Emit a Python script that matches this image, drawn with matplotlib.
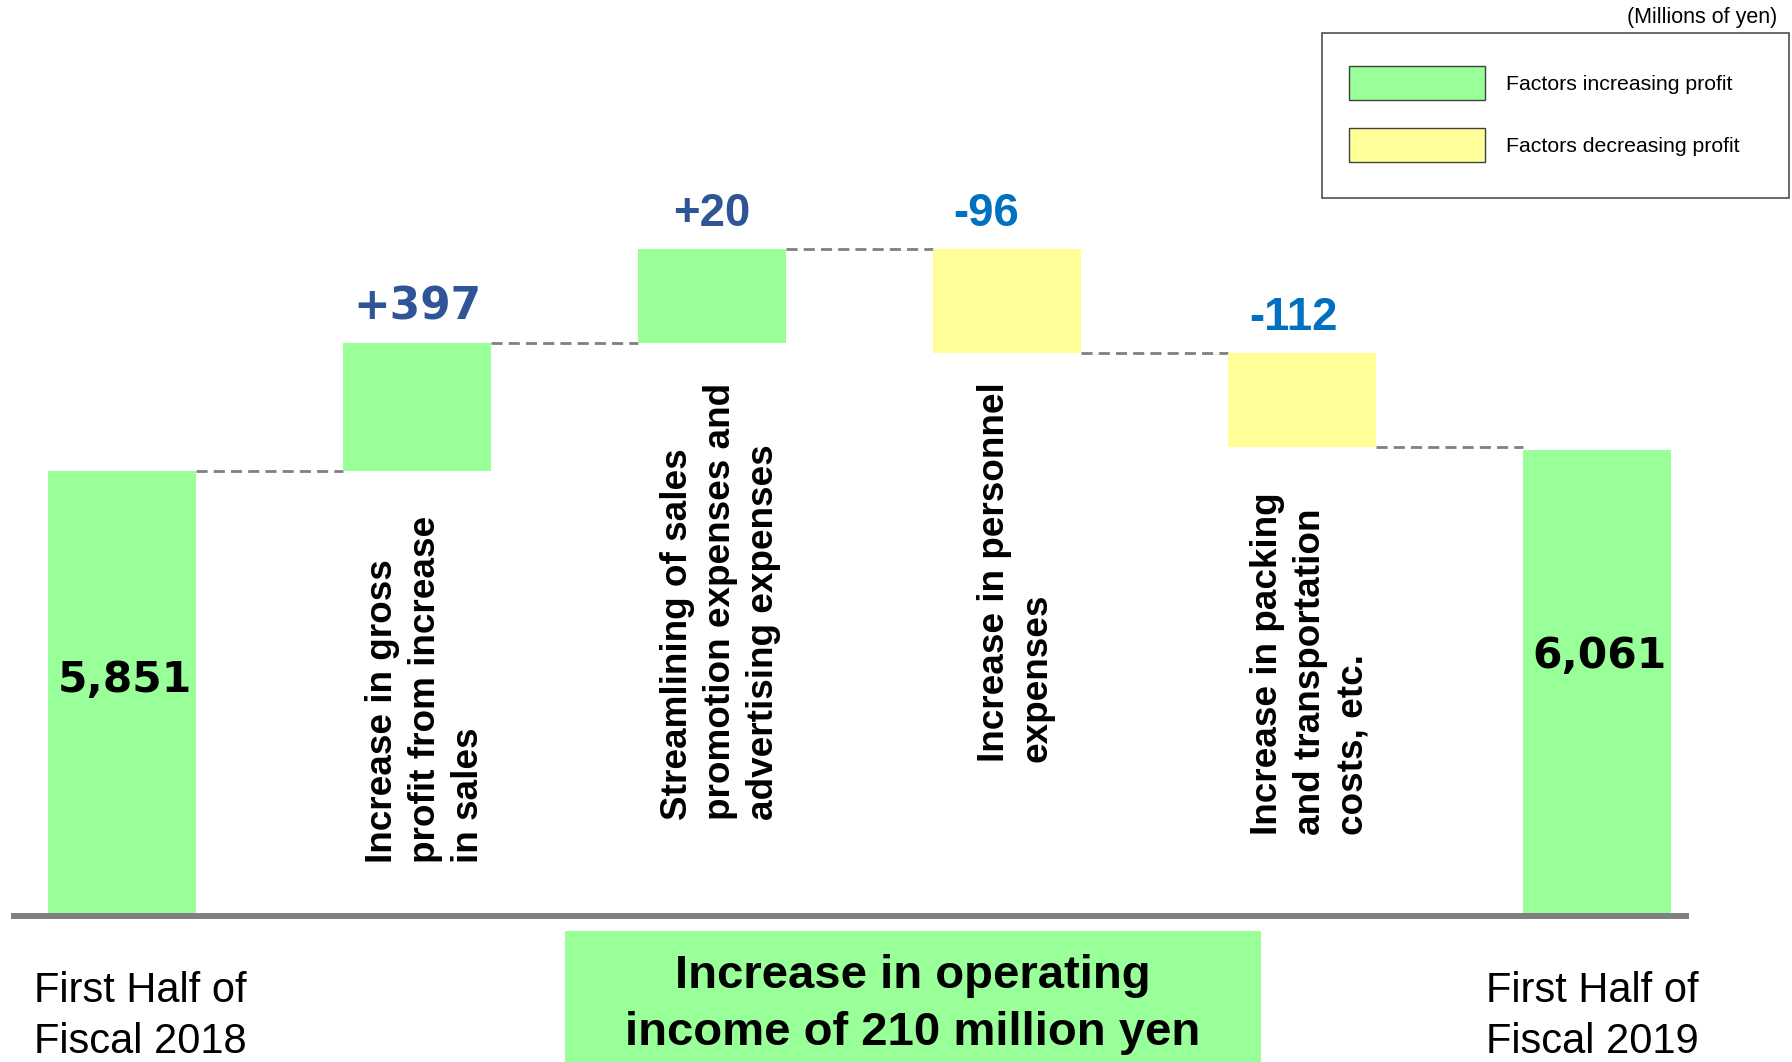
import numpy as np
import matplotlib.pyplot as plt
import matplotlib.patches as mpatches

W, H = 1792, 1062  # output size in pixels

categories = ['First Half of\nFiscal 2018',
              'Increase in gross\nprofit from increase\nin sales',
              'Streamlining of sales\npromotion expenses and\nadvertising expenses',
              'Increase in personnel\nexpenses',
              'Increase in packing\nand transportation\ncosts, etc.',
              'First Half of\nFiscal 2019']
values = [5851, 397, 20, -96, -112, 6061]  # millions of yen
value_labels = ['5,851', '+397', '+20', '-96', '-112', '6,061']
# the slide does not draw the bars to scale: heights as drawn, in slide pixels
drawn_heights = [442, 128, 94, -104, -94, 463]

GREEN = '#99FF99'
YELLOW = '#FFFF99'
GRAY = '#808080'


def px(x, y):
    """slide pixel (from top-left) -> figure fraction"""
    return x / W, 1 - y / H


# waterfall geometry
bottoms, heights = [0], [drawn_heights[0]]
running = drawn_heights[0]
levels = [running]
for h in drawn_heights[1:-1]:
    bottoms.append(running if h > 0 else running + h)
    heights.append(abs(h))
    running += h
    levels.append(running)
bottoms.append(0)
heights.append(drawn_heights[-1])
colors = [GREEN if v >= 0 else YELLOW for v in values]

fig = plt.figure(figsize=(W / 100, H / 100), dpi=100)
ax = fig.add_axes([0, 0, 1, 1])
ax.set_xlim(-122 / 295, (W - 122) / 295)
ax.set_ylim(-149, 913)
ax.axis('off')

x = np.arange(len(values))
width = 0.5
ax.bar(x, heights, width=width, bottom=bottoms, color=colors, zorder=2)

# dashed connectors between bars
for i, lev in enumerate(levels):
    ax.plot([i + width / 2, i + 1 - width / 2], [lev, lev], color=GRAY,
            lw=2, dashes=(4, 2.2), zorder=1)

# base line
ax.plot([-0.376, 5.312], [-3, -3], color=GRAY, lw=4.3,
        solid_capstyle='butt', zorder=1)

# rotated factor labels
label_bottom = [None, 50, 93, 151, 78, None]
for i in range(1, 5):
    ax.text(i + 0.03, label_bottom[i], categories[i], rotation=90,
            ha='center', va='bottom', multialignment='left',
            fontsize=26.6, fontweight='bold', family='Liberation Sans',
            linespacing=1.3)

# change labels above bars
step_colors = ['', '#2F5597', '#2F5597', '#0070C0', '#0070C0', '']
step_fonts = ['', 'DejaVu Sans', 'Liberation Sans', 'Liberation Sans', 'Liberation Sans', '']
step_sizes = [0, 31.6, 32.8, 32.8, 32.8, 0]
step_dx = [0, 0, 0, -0.07, -0.03, 0]
for i in range(1, 5):
    top = bottoms[i] + heights[i]
    ax.text(i + step_dx[i], top + 23, value_labels[i], ha='center',
            va='baseline', color=step_colors[i], fontsize=step_sizes[i],
            fontweight='bold', family=step_fonts[i])

# totals inside the end bars
total_y = {0: 221, 5: 245}
for i, y in total_y.items():
    ax.text(i + 0.01, y, value_labels[i], ha='center', va='baseline',
            fontsize=30.5, fontweight='bold', family='DejaVu Sans')

# period names under the axis (va='baseline' pins the last line)
fig.text(*px(34, 1053), categories[0], ha='left', va='baseline',
         fontsize=30, family='Liberation Sans', linespacing=1.35)
fig.text(*px(1486, 1053), categories[5], ha='left', va='baseline',
         fontsize=30, family='Liberation Sans', linespacing=1.35)

# summary box
fig.add_artist(mpatches.Rectangle(px(565, 1062), 696 / W, 131 / H,
                                  transform=fig.transFigure,
                                  facecolor=GREEN, edgecolor='none'))
fig.text(*px(913, 1045), 'Increase in operating\nincome of 210 million yen',
         ha='center', va='baseline', multialignment='center',
         fontsize=34, fontweight='bold', family='Liberation Sans',
         linespacing=1.38)

fig.text(*px(1777, 18), '(Millions of yen)', ha='right', va='center',
         fontsize=15.5, family='Liberation Sans')

# legend: frame drawn separately (behind the axes) so it can be wider on the right
fig.add_artist(mpatches.Rectangle(px(1322, 198), 467 / W, 165 / H,
                                  transform=fig.transFigure, facecolor='white',
                                  edgecolor='#404040', lw=1.1, zorder=-1))
handles = [mpatches.Patch(facecolor=GREEN, edgecolor='#404040', lw=1,
                          label='Factors increasing profit'),
           mpatches.Patch(facecolor=YELLOW, edgecolor='#404040', lw=1,
                          label='Factors decreasing profit')]
leg = ax.legend(handles=handles, loc='upper left',
                bbox_to_anchor=px(1349, 66), bbox_transform=fig.transFigure,
                borderaxespad=0, borderpad=0, frameon=False,
                prop={'family': 'Liberation Sans', 'size': 15.3},
                handlelength=6.4, handleheight=2.1, handletextpad=1.0,
                labelspacing=1.3)

fig.savefig('out.png', dpi=100)
